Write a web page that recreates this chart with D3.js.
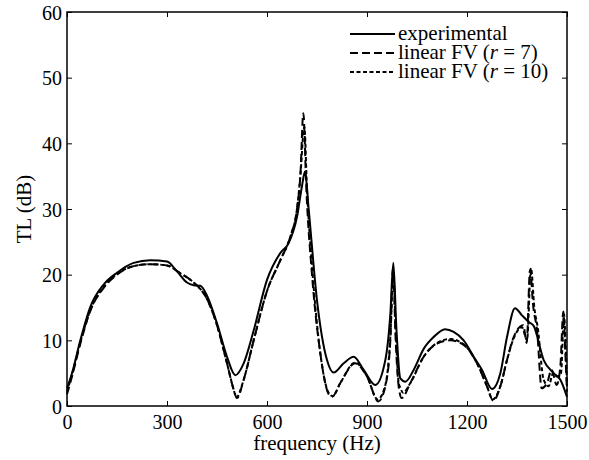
<!DOCTYPE html>
<html lang="en">
<head>
    <meta charset="UTF-8">
    <title>TL chart</title>
    <script src="https://cdn.jsdelivr.net/npm/d3@7"></script>
    <style>
        body { margin: 0; background: #fff; }
        svg text { font-family: "Times New Roman", "Liberation Serif", "DejaVu Serif", serif; fill: #000; }
    </style>
</head>
<body>
<script>
// data
var freqExp = [0,15,40,70,110,150,200,250,300,330,360,380,400,420,450,480,505,530,560,600,640,665,690,705,714,725,750,780,800,830,860,890,925,955,970,979,988,1000,1015,1040,1070,1100,1134,1160,1190,1220,1245,1275,1300,1320,1344,1365,1385,1400,1430,1460,1480,1500];
var tlExp   = [2.7,5,10,15.1,18.5,20.3,21.8,22.2,22.0,20.5,18.8,18.4,18.3,16.8,12.6,7.5,4.7,6.5,11.5,19.2,23.3,24.8,28.8,33.5,35.7,30,16.1,7,5.1,6.5,7.5,5.5,3.2,7,14,21.8,12,4.2,3.7,5.5,8.7,10.5,11.7,11.3,10,7.5,5.5,2.6,5,10.5,14.9,13.8,12.8,12.2,7,5,4,1.4];

var freqR7 = [0,15,40,70,110,150,200,250,300,340,380,420,450,480,500,510,530,560,600,640,670,690,700,709,718,735,760,785,795,820,864,900,934,955,970,978,986,995,1004,1030,1070,1110,1149,1190,1230,1260,1279,1300,1320,1340,1369,1379,1389,1399,1410,1424,1440,1454,1469,1480,1489,1495,1500];
var tlR7   = [1.8,4.5,9.5,14.5,18,20,21.3,21.6,21.4,20.2,18.8,16.3,12.3,6.5,2.5,1.2,4,10,17.5,22.2,25.8,30,35,44.6,33,20,8,1.8,1.4,3.5,6.5,4.5,0.7,3,10,21,10,3,1.2,3.5,7.5,9.5,10,9.3,6.5,3,0.8,3,7,10.5,12.3,9.6,20.7,15,11.6,2.7,3.5,5.5,3.2,6,14.4,8,2.2];

var freqR10 = [0,15,40,70,110,150,200,250,300,340,380,420,450,480,500,508,530,560,600,640,670,690,700,712,720,737,760,785,797,820,864,900,932,955,970,979,987,995,1000,1008,1030,1070,1110,1149,1190,1230,1260,1277,1300,1320,1340,1365,1380,1392,1402,1412,1430,1445,1458,1470,1482,1491,1496,1500];
var tlR10   = [2.2,4.8,9.7,14.6,18.1,20.1,21.3,21.6,21.4,20.2,18.8,16.3,12.3,6.5,2.5,1.3,4,10,17.5,22.2,25.8,30,35,42.5,33,20,8,2.0,1.5,3.5,6.6,4.5,1.0,3.2,10.5,20,10.5,3.5,2.8,2,3.5,7.5,9.6,10.2,9.4,6.5,3,1.0,3,7,10.3,12,10,21,15,12,4,3,5,4.5,5,14,9,3];

var xTicks = [0,300,600,900,1200,1500];
var yTicks = [0,10,20,30,40,50,60];

var seriesNames = ["experimental", "linear FV (r = 7)", "linear FV (r = 10)"];

var W = 589, H = 460;
var margin = {top: 12, right: 22, bottom: 54, left: 67};
var w = W - margin.left - margin.right;
var h = H - margin.top - margin.bottom;
var fs = "20px";     // tick labels
var fsLab = "21px";  // axis titles and legend

var svg = d3.select("body").append("svg")
    .attr("width", W)
    .attr("height", H);

var g = svg.append("g")
    .attr("transform", "translate(" + margin.left + "," + margin.top + ")");

var x = d3.scaleLinear().domain([0, 1500]).range([0, w]);
var y = d3.scaleLinear().domain([0, 60]).range([h, 0]);

// axes, ticks pointing inwards
g.append("g")
    .attr("transform", "translate(0," + h + ")")
    .call(d3.axisBottom(x).tickValues(xTicks).tickFormat(d3.format("d")).tickSize(-5).tickPadding(9));
var yAxis = g.append("g")
    .call(d3.axisLeft(y).tickValues(yTicks).tickFormat(d3.format("d")).tickSize(-5).tickPadding(5));
g.append("g")
    .call(d3.axisTop(x).tickValues(xTicks).tickSize(-5).tickFormat(""));
g.append("g")
    .attr("transform", "translate(" + w + ",0)")
    .call(d3.axisRight(y).tickValues(yTicks).tickSize(-5).tickFormat(""));

g.selectAll(".domain").remove();
g.selectAll(".tick line").attr("stroke", "#000").attr("stroke-width", 1);
g.selectAll(".tick text").attr("font-size", fs).attr("font-family", null);
yAxis.selectAll(".tick text").attr("dy", "0.35em");

g.append("rect")
    .attr("width", w).attr("height", h)
    .attr("fill", "none").attr("stroke", "#000").attr("stroke-width", 1.5);

// axis labels
svg.append("text")
    .attr("x", margin.left + w / 2).attr("y", 450)
    .attr("text-anchor", "middle").attr("font-size", fsLab)
    .text("frequency (Hz)");
svg.append("text")
    .attr("transform", "translate(31," + (margin.top + h / 2) + ") rotate(-90)")
    .attr("text-anchor", "middle").attr("font-size", fsLab)
    .text("TL (dB)");

// curves
var line = d3.line()
    .x(function(d) { return x(d[0]); })
    .y(function(d) { return y(d[1]); })
    .curve(d3.curveMonotoneX);

var styles = [
    {dash: null},
    {dash: "8,4"},
    {dash: "4,2.5"}
];
var sets = [
    d3.zip(freqExp, tlExp),
    d3.zip(freqR7, tlR7),
    d3.zip(freqR10, tlR10)
];

var plot = g.append("g");
sets.forEach(function(s, i) {
    plot.append("path")
        .datum(s)
        .attr("d", line)
        .attr("fill", "none")
        .attr("stroke", "#000")
        .attr("stroke-width", 2)
        .attr("stroke-dasharray", styles[i].dash);
});

// legend
var leg = svg.append("g");
seriesNames.forEach(function(name, i) {
    var yy = 34 + i * 19;
    leg.append("line")
        .attr("x1", 350).attr("x2", 395)
        .attr("y1", yy).attr("y2", yy)
        .attr("stroke", "#000").attr("stroke-width", 2)
        .attr("stroke-dasharray", styles[i].dash);
    var t = leg.append("text")
        .attr("x", 398).attr("y", yy + 6)
        .attr("font-size", fsLab);
    if (i === 0) {
        t.text(name);
    } else {
        var num = i === 1 ? "7" : "10";
        t.append("tspan").text("linear FV (");
        t.append("tspan").attr("font-style", "italic").text("r");
        t.append("tspan").text(" = " + num + ")");
    }
});
</script>
</body>
</html>
